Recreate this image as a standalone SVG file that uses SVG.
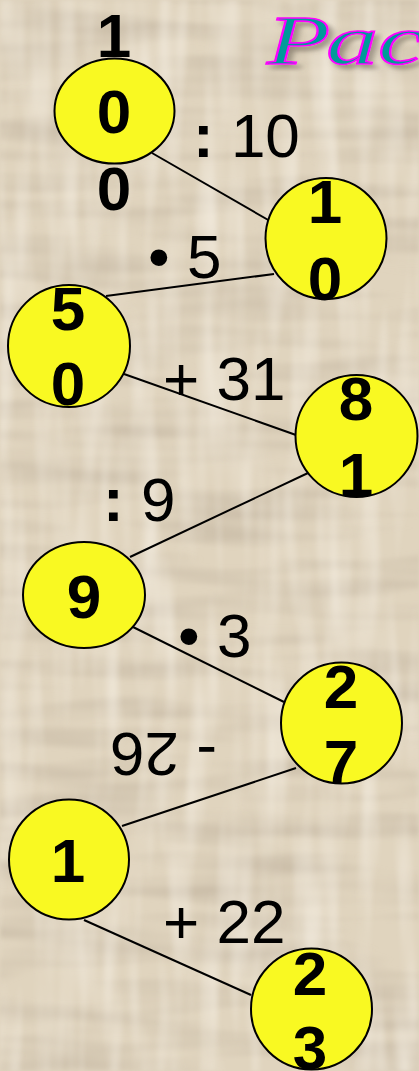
<svg xmlns="http://www.w3.org/2000/svg" width="419" height="1071" viewBox="0 0 419 1071">
<defs>
<filter id="texH" x="0" y="0" width="100%" height="100%">
<feTurbulence type="fractalNoise" baseFrequency="0.006 0.05" numOctaves="2" seed="3"/>
<feColorMatrix type="matrix" values="0 0 0 0 0.55  0 0 0 0 0.47  0 0 0 0 0.36  1.5 0 0 0 -0.6"/>
<feGaussianBlur stdDeviation="1.5"/>
</filter>
<filter id="texV" x="0" y="0" width="100%" height="100%">
<feTurbulence type="fractalNoise" baseFrequency="0.05 0.006" numOctaves="2" seed="7"/>
<feColorMatrix type="matrix" values="0 0 0 0 0.97  0 0 0 0 0.93  0 0 0 0 0.86  1.2 0 0 0 -0.5"/>
<feGaussianBlur stdDeviation="1.5"/>
</filter>
<filter id="shadow" x="-10%" y="-20%" width="130%" height="150%">
<feDropShadow dx="3" dy="4" stdDeviation="2" flood-color="#6e6558" flood-opacity="0.6"/>
</filter>
<style>
.node{fill:#f9f922;stroke:#000;stroke-width:2}
.num{font-family:"Liberation Sans",Arial,sans-serif;font-weight:bold;font-size:62px;fill:#000;text-anchor:middle}
.lbl{font-family:"Liberation Sans",Arial,sans-serif;font-size:62px;fill:#000}
.b{font-weight:bold}
.edge{stroke:#000;stroke-width:2;fill:none}
.title{font-family:"Liberation Serif","Times New Roman",serif;font-style:italic;font-size:69px;fill:#009a9a;stroke:#ff00ff;stroke-width:1.6}
</style>
</defs>
<g id="background">
<rect width="419" height="1071" fill="#e0d4be"/>
<rect width="419" height="1071" filter="url(#texH)"/>
<rect width="419" height="1071" filter="url(#texV)"/>
</g>
<g id="title" transform="translate(267 64) scale(1.5 1)">
<text class="title" x="0" y="0" filter="url(#shadow)">Рас</text>
</g>
<g id="connectors">
<line class="edge" x1="152" y1="153" x2="270" y2="221"/>
<line class="edge" x1="274" y1="274" x2="106" y2="296"/>
<line class="edge" x1="124" y1="374" x2="296" y2="435"/>
<line class="edge" x1="308" y1="473" x2="130" y2="557"/>
<line class="edge" x1="133" y1="627" x2="284" y2="702"/>
<line class="edge" x1="296" y1="768" x2="122" y2="826"/>
<line class="edge" x1="84" y1="920" x2="251" y2="995"/>
</g>
<g id="node-100">
<ellipse class="node" cx="114.5" cy="111" rx="60" ry="52.5"/>
<text class="num" x="114" y="57">1</text>
<text class="num" x="114" y="133">0</text>
<text class="num" x="114" y="210">0</text>
</g>
<g id="node-10">
<circle class="node" cx="326" cy="238.5" r="60.5"/>
<text class="num" x="325" y="223">1</text>
<text class="num" x="325" y="300">0</text>
</g>
<g id="node-50">
<circle class="node" cx="69" cy="346" r="61"/>
<text class="num" x="68" y="330">5</text>
<text class="num" x="68" y="405">0</text>
</g>
<g id="node-81">
<circle class="node" cx="356.5" cy="436" r="61"/>
<text class="num" x="356" y="420">8</text>
<text class="num" x="356" y="496">1</text>
</g>
<g id="node-9">
<ellipse class="node" cx="84" cy="595" rx="61" ry="53"/>
<text class="num" x="84" y="618">9</text>
</g>
<g id="node-27">
<circle class="node" cx="341.5" cy="723" r="60.5"/>
<text class="num" x="341" y="708">2</text>
<text class="num" x="341" y="783">7</text>
</g>
<g id="node-1">
<circle class="node" cx="69" cy="859.5" r="60"/>
<text class="num" x="68" y="882">1</text>
</g>
<g id="node-23">
<circle class="node" cx="311.5" cy="1009" r="60.5"/>
<text class="num" x="310" y="995">2</text>
<text class="num" x="310" y="1069">3</text>
</g>
<g id="labels">
<text class="lbl" x="193" y="157"><tspan class="b">:</tspan> 10</text>
<text class="lbl" x="148" y="278">• 5</text>
<text class="lbl" x="163" y="400">+ 31</text>
<text class="lbl" x="103" y="521"><tspan class="b">:</tspan> 9</text>
<text class="lbl" x="178" y="657">• 3</text>
<text class="lbl" x="163.5" y="780" text-anchor="middle" transform="rotate(180 163.5 756.5)">- 26</text>
<text class="lbl" x="163" y="943">+ 22</text>
</g>
</svg>
